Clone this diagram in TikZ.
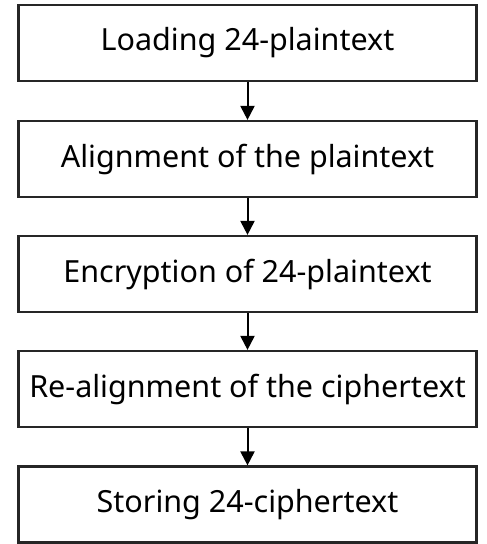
\documentclass[tikz,border=0pt]{standalone}
\usepackage{fontspec}
\setmainfont{Noto Sans}
\usetikzlibrary{arrows.meta}
\begin{document}
\begin{tikzpicture}[x=1pt,y=-1pt,
  stepbox/.style={draw=black!85,line width=2.2pt,minimum width=458pt,minimum height=76pt,inner sep=0pt,font=\fontsize{30.5}{34}\selectfont},
  flow/.style={line width=2pt,-{Triangle[length=14pt,width=14pt]}}]
\useasboundingbox (0,0) rectangle (487,544);
\node[stepbox] (a) at (247.5,43) {Loading 24-plaintext};
\node[stepbox] (b) at (247.5,159) {Alignment of the plaintext};
\node[stepbox] (c) at (247.5,274) {Encryption of 24-plaintext};
\node[stepbox] (d) at (247.5,389) {Re-alignment of the ciphertext};
\node[stepbox] (e) at (247.5,504.5) {Storing 24-ciphertext};
\draw[flow] (a) -- (b);
\draw[flow] (b) -- (c);
\draw[flow] (c) -- (d);
\draw[flow] (d) -- (e);
\end{tikzpicture}
\end{document}
